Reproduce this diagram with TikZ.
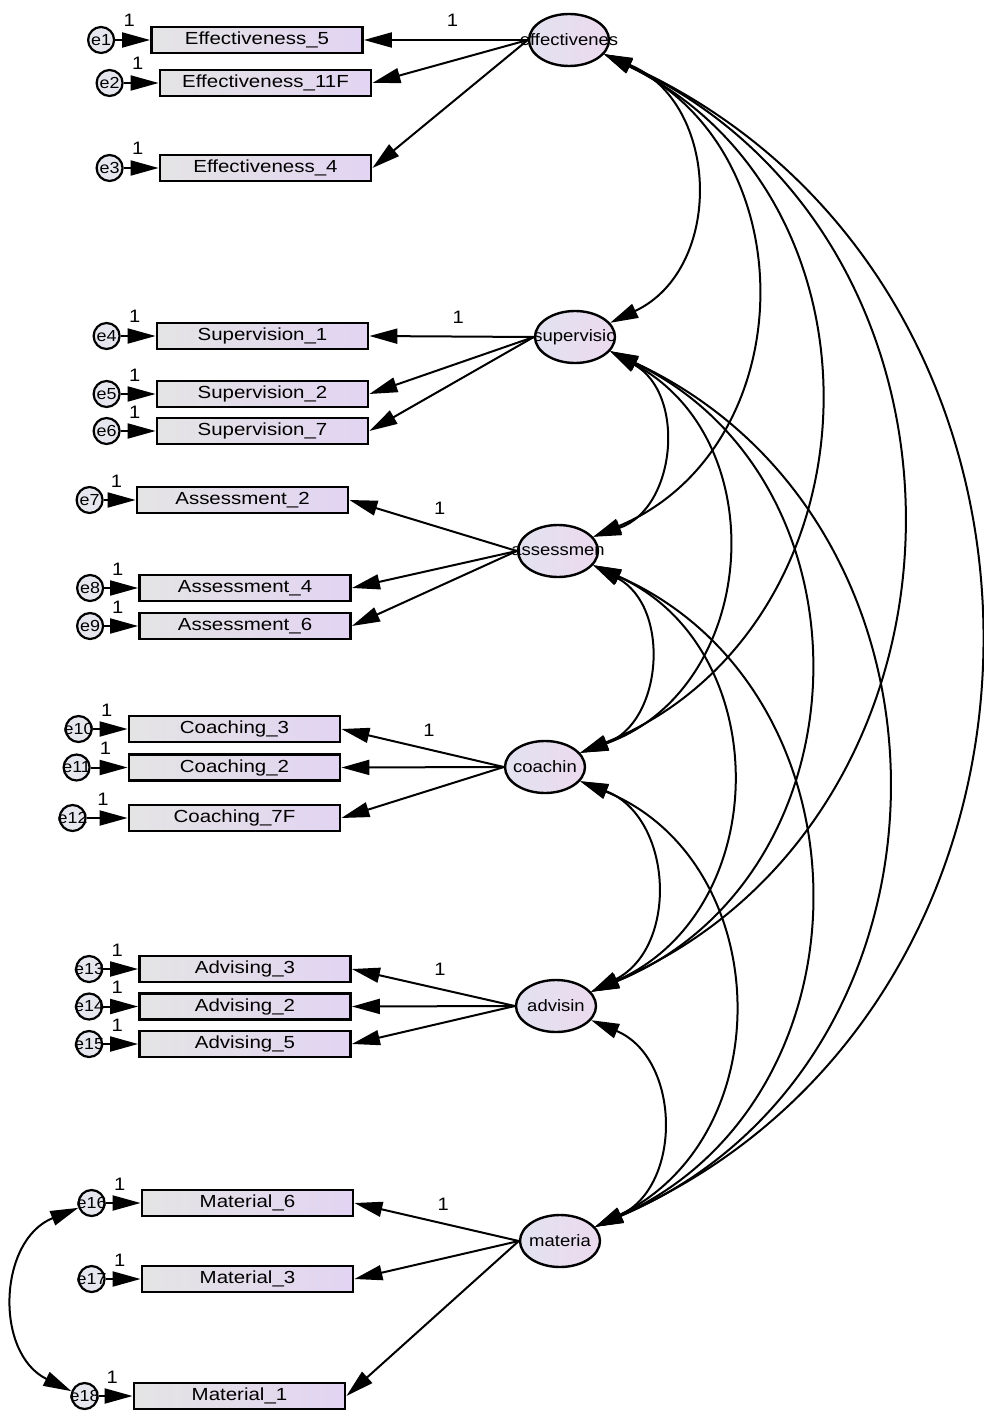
\documentclass[tikz,border=0pt]{standalone}
\usepackage{fontspec}
\newfontfamily\amos[FakeStretch=1.12]{Liberation Sans}
\newfontfamily\amoswide[FakeStretch=1.17]{Liberation Sans}
\usepackage{tikz}
\usetikzlibrary{arrows.meta,calc,backgrounds,shapes.geometric}

\definecolor{obsleft}{RGB}{228,228,228}
\definecolor{obsright}{RGB}{226,212,242}
\definecolor{latleft}{RGB}{226,226,240}
\definecolor{latright}{RGB}{236,218,238}
\definecolor{errfill}{RGB}{230,230,238}

\tikzstyle{sem}=[
  x=1pt, y=-1pt, line width=2pt, >={Triangle[length=28pt,width=15pt]},
  font=\amos\fontsize{16.5}{18}\selectfont
]
\tikzstyle{latent}=[
  draw, ellipse, line width=2.4pt, minimum width=80pt, minimum height=52pt,
  inner sep=0pt, left color=latleft, right color=latright
]
\tikzstyle{observed}=[
  draw, rectangle, line width=2.8pt, minimum width=211pt, minimum height=26pt,
  inner sep=0pt, left color=obsleft, right color=obsright,
  font=\amoswide\fontsize{17.5}{19}\selectfont
]
\tikzstyle{error}=[
  draw, circle, line width=2.2pt, minimum size=26pt, inner sep=0pt,
  fill=errfill, font=\amos\fontsize{16}{17}\selectfont
]
\tikzset{
  fix/.style={pos=0.46, above=12pt, inner sep=0pt, font=\amos\fontsize{18}{19}\selectfont},
  efix/.style={pos=0.4, above=12pt, inner sep=0pt, font=\amos\fontsize{18}{19}\selectfont},
}
\newcommand{\lbl}[1]{\makebox[0pt]{#1}}
% two-headed arc, bulging to the right when going down
\newcommand{\covarc}[2]{\draw [<->] (#1) .. controls ($(#1)!0.47!66:(#2)$) and ($(#2)!0.47!-66:(#1)$) .. (#2);}

\begin{document}
\begin{tikzpicture}[sem]
        \useasboundingbox (0, 0) rectangle (984, 1412);
        \def\eoff{49pt}
        % factors
        \node (eff) at (569, 40) [latent] {\lbl{effectivenes}};
        \node (sup) at (575, 337) [latent] {\lbl{supervisio}};
        \node (ass) at (558, 551) [latent] {\lbl{assessmen}};
        \node (coa) at (545, 767) [latent] {\lbl{coachin}};
        \node (adv) at (556, 1006) [latent] {\lbl{advisin}};
        \node (mat) at (560, 1241) [latent] {\lbl{materia}};

        % items
        \node (eff5) at (257, 40) [observed] {Effectiveness\_5};
        \node (eff11) at (265.5, 83) [observed] {Effectiveness\_11F};
        \node (eff4) at (265.5, 168) [observed] {Effectiveness\_4};
        \node (sup1) at (262.5, 336) [observed] {Supervision\_1};
        \node (sup2) at (262.5, 394) [observed] {Supervision\_2};
        \node (sup7) at (262.5, 431) [observed] {Supervision\_7};
        \node (ass2) at (242.5, 500) [observed] {Assessment\_2};
        \node (ass4) at (245, 588) [observed] {Assessment\_4};
        \node (ass6) at (245, 626) [observed] {Assessment\_6};
        \node (coa3) at (234.5, 729) [observed] {Coaching\_3};
        \node (coa2) at (234.5, 767.5) [observed] {Coaching\_2};
        \node (coa7) at (234.5, 818) [observed] {Coaching\_7F};
        \node (adv3) at (245, 969) [observed] {Advising\_3};
        \node (adv2) at (245, 1006.5) [observed] {Advising\_2};
        \node (adv5) at (245, 1044) [observed] {Advising\_5};
        \node (mat6) at (247.5, 1203) [observed] {Material\_6};
        \node (mat3) at (247.5, 1279) [observed] {Material\_3};
        \node (mat1) at (239.5, 1396) [observed] {Material\_1};

        % residuals
        \node (e1) at ($(eff5.west) + (-\eoff, 0)$) [error] {\lbl{e1}};
        \node (e2) at ($(eff11.west) + (-\eoff, 0)$) [error] {\lbl{e2}};
        \node (e3) at ($(eff4.west) + (-\eoff, 0)$) [error] {\lbl{e3}};
        \node (e4) at ($(sup1.west) + (-\eoff, 0)$) [error] {\lbl{e4}};
        \node (e5) at ($(sup2.west) + (-\eoff, 0)$) [error] {\lbl{e5}};
        \node (e6) at ($(sup7.west) + (-\eoff, 0)$) [error] {\lbl{e6}};
        \node (e7) at ($(ass2.west) + (-46pt, 0)$) [error] {\lbl{e7}};
        \node (e8) at ($(ass4.west) + (-48pt, 0)$) [error] {\lbl{e8}};
        \node (e9) at ($(ass6.west) + (-48pt, 0)$) [error] {\lbl{e9}};
        \node (e10) at ($(coa3.west) + (-\eoff, 0)$) [error] {\lbl{e10}};
        \node (e11) at ($(coa2.west) + (-51pt, 0)$) [error] {\lbl{e11}};
        \node (e12) at ($(coa7.west) + (-55pt, 0)$) [error] {\lbl{e12}};
        \node (e13) at ($(adv3.west) + (-\eoff, 0)$) [error] {\lbl{e13}};
        \node (e14) at ($(adv2.west) + (-\eoff, 0)$) [error] {\lbl{e14}};
        \node (e15) at ($(adv5.west) + (-\eoff, 0)$) [error] {\lbl{e15}};
        \node (e16) at ($(mat6.west) + (-\eoff, 0)$) [error] {\lbl{e16}};
        \node (e17) at ($(mat3.west) + (-\eoff, 0)$) [error] {\lbl{e17}};
        \node (e18) at ($(mat1.west) + (-48pt, 0)$) [error] {\lbl{e18}};

        \begin{scope}[on background layer={line width=2pt}]
          \draw [->] (e1) -- node[efix] {1} (eff5);
          \draw [->] (e2) -- node[efix] {1} (eff11);
          \draw [->] (e3) -- node[efix] {1} (eff4);
          \draw [->] (e4) -- node[efix] {1} (sup1);
          \draw [->] (e5) -- node[efix] {1} (sup2);
          \draw [->] (e6) -- node[efix] {1} (sup7);
          \draw [->] (e7) -- node[efix] {1} (ass2);
          \draw [->] (e8) -- node[efix] {1} (ass4);
          \draw [->] (e9) -- node[efix] {1} (ass6);
          \draw [->] (e10) -- node[efix] {1} (coa3);
          \draw [->] (e11) -- node[efix] {1} (coa2);
          \draw [->] (e12) -- node[efix] {1} (coa7);
          \draw [->] (e13) -- node[efix] {1} (adv3);
          \draw [->] (e14) -- node[efix] {1} (adv2);
          \draw [->] (e15) -- node[efix] {1} (adv5);
          \draw [->] (e16) -- node[efix] {1} (mat6);
          \draw [->] (e17) -- node[efix] {1} (mat3);
          \draw [->] (e18) -- node[efix] {1} (mat1);

          % loadings, first one fixed
          \path (eff.west) edge [->] node[fix] {1} (eff5.east) edge [->] (eff11.east) edge [->] (eff4.east);
          \path (sup.west) edge [->] node[fix] {1} (sup1.east) edge [->] (sup2.east) edge [->] (sup7.east);
          \path (ass.west) edge [->] node[fix] {1} (ass2.east) edge [->] (ass4.east) edge [->] (ass6.east);
          \path (coa.west) edge [->] node[fix] {1} (coa3.east) edge [->] (coa2.east) edge [->] (coa7.east);
          \path (adv.west) edge [->] node[fix] {1} (adv3.east) edge [->] (adv2.east) edge [->] (adv5.east);
          \path (mat.west) edge [->] node[fix] {1} (mat6.east) edge [->] (mat3.east) edge [->] (mat1.east);

          % factor covariances
          \covarc{eff.-22}{sup.22}
          \covarc{eff.-22}{ass.22}
          \covarc{eff.-22}{coa.22}
          \covarc{eff.-22}{adv.22}
          \covarc{eff.-22}{mat.22}
          \covarc{sup.-22}{ass.22}
          \covarc{sup.-22}{coa.22}
          \covarc{sup.-22}{adv.22}
          \covarc{sup.-22}{mat.22}
          \covarc{ass.-22}{coa.22}
          \covarc{ass.-22}{adv.22}
          \covarc{ass.-22}{mat.22}
          \covarc{coa.-22}{adv.22}
          \covarc{coa.-22}{mat.22}
          \covarc{adv.-22}{mat.22}
          % correlated residuals
          \draw [<->] (e16.200) .. controls ($(e16.200)!0.47!-66:(e18.160)$) and ($(e18.160)!0.47!66:(e16.200)$) .. (e18.160);
        \end{scope}
        \end{tikzpicture}
\end{document}
